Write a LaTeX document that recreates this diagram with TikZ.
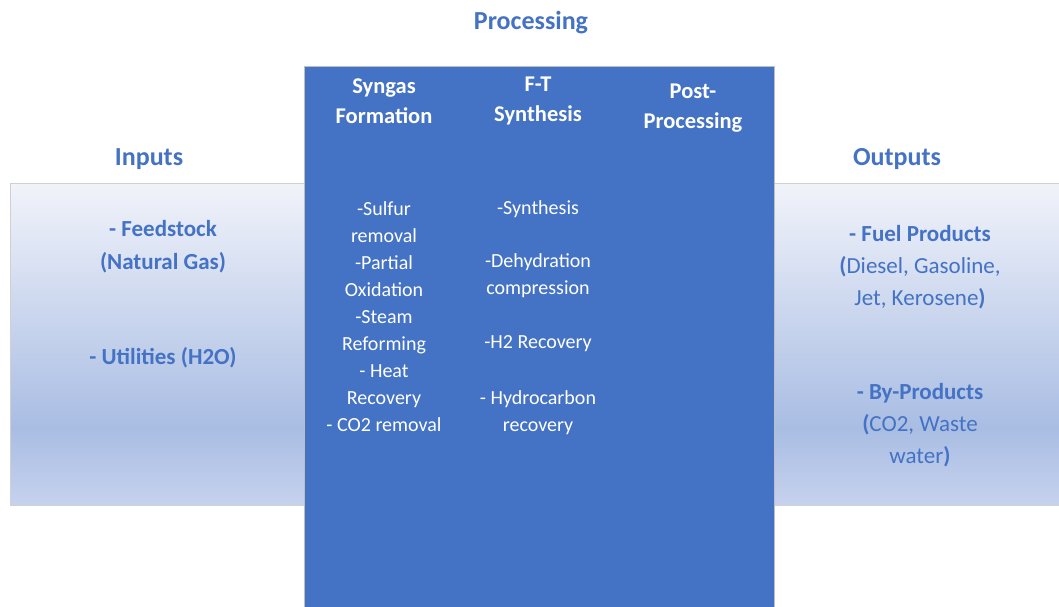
\documentclass[tikz,border=0pt]{standalone}
\usepackage{fontspec}
\setmainfont{Carlito}
\definecolor{accent}{HTML}{4472C4}
\definecolor{boxedge}{HTML}{BFBFBF}
\definecolor{bandedge}{HTML}{D0D0D0}
\definecolor{gtop}{HTML}{F1F3FA}
\definecolor{gdark}{HTML}{A9BDE3}
\definecolor{gbot}{HTML}{C6D2EE}
\pgfdeclareverticalshading{bandshade}{100bp}{color(0bp)=(gbot); color(25bp)=(gbot); color(37bp)=(gdark); color(75bp)=(gtop); color(100bp)=(gtop)}
\tikzset{
  band/.style={draw=bandedge, line width=0.8pt, shading=bandshade},
  procbox/.style={draw=boxedge, line width=0.8pt, fill=accent},
  title/.style={text=accent, font=\fontsize{26}{31}\selectfont\bfseries},
  colhead/.style={text=white, align=center, font=\fontsize{22.5}{30}\selectfont\bfseries},
  colbody/.style={text=white, align=center, font=\fontsize{20}{27}\selectfont},
  sidetext/.style={text=accent, align=center, font=\fontsize{23}{32}\selectfont},
}
\begin{document}
\begin{tikzpicture}[x=1pt,y=-1pt]
\useasboundingbox (0,0) rectangle (1059,606);
% side bands
\path[band] (10,183) rectangle (304,505);
\path[band] (774,183) rectangle (1070,505);
% processing box
\path[procbox] (304,66) rectangle (774,610);
% titles
\node[title] (proc) at (531,23) {Processing};
\node[title] (inp) at (149,159) {Inputs};
\node[title] (outp) at (897,159) {Outputs};
% column heads
\node[colhead] (h1) at (384,101) {Syngas\\Formation};
\node[colhead] (h2) at (538,101) {F-T\\Synthesis};
\node[colhead] (h3) at (693,108) {Post-\\Processing};
% column bodies
\node[colbody] (b1) at (384,317) {-Sulfur\\removal\\-Partial\\Oxidation\\-Steam\\Reforming\\- Heat\\Recovery\\- CO2 removal};
\node[colbody] (b2a) at (538,209) {-Synthesis};
\node[colbody] (b2b) at (538,276) {-Dehydration\\compression};
\node[colbody] (b2c) at (538,344) {-H2 Recovery};
\node[colbody] (b2d) at (538,413) {- Hydrocarbon\\recovery};
% inputs
\node[sidetext, font=\fontsize{23}{33}\selectfont\bfseries] (in1) at (163,247) {- Feedstock\\(Natural Gas)};
\node[sidetext, font=\fontsize{23}{33}\selectfont\bfseries] (in2) at (163,358) {- Utilities (H2O)};
% outputs
\node[sidetext] (out1) at (920,267) {\textbf{- Fuel Products}\\\textbf{(}Diesel, Gasoline,\\Jet, Kerosene\textbf{)}};
\node[sidetext] (out2) at (920,425) {\textbf{- By-Products}\\\textbf{(}CO2, Waste\\water\textbf{)}};
\end{tikzpicture}
\end{document}
